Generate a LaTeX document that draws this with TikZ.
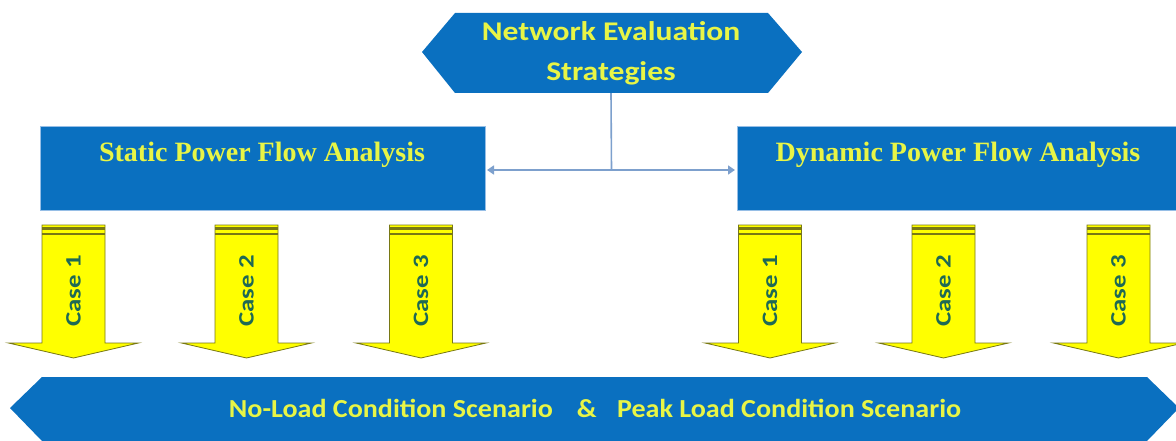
\documentclass[tikz,border=0pt]{standalone}
\usepackage{fontspec}
\setmainfont{Liberation Serif}
\newfontfamily\calib{Carlito}
\usetikzlibrary{arrows.meta}
\definecolor{boxblue}{RGB}{10,112,192}
\definecolor{boxedge}{RGB}{150,190,230}
\definecolor{txtyellow}{RGB}{232,245,70}
\definecolor{arryellow}{RGB}{255,255,0}
\definecolor{arredge}{RGB}{120,120,20}
\definecolor{casetxt}{RGB}{30,105,85}
\definecolor{linkblue}{RGB}{125,160,205}
\tikzset{
  bluebox/.style={fill=boxblue,draw=boxedge,line width=1pt},
  hextext/.style={font=\calib\bfseries\fontsize{27}{40}\selectfont,text=txtyellow,align=center},
  boxtext/.style={font=\bfseries\fontsize{28}{32}\selectfont,text=txtyellow,anchor=base},
  bantext/.style={font=\calib\bfseries\fontsize{26}{30}\selectfont,text=txtyellow,anchor=base},
  casetext/.style={font=\calib\bfseries\fontsize{22}{26}\selectfont,text=casetxt,rotate=90},
  link/.style={draw=linkblue,line width=1.6pt},
  casearrow/.style={fill=arryellow,draw=arredge,line width=0.8pt},
}
\newcommand{\casearrowat}[3]{%
  \path[casearrow] (#1-31.5,225) -- (#1+31.5,225) -- (#1+31.5,343) -- (#1+65,343) -- (#1,358) -- (#1-65,343) -- (#1-31.5,343) -- cycle;
  \draw[arredge,line width=2.5pt] (#1-31.5,228.5) -- (#1+31.5,228.5);
  \draw[arredge,line width=2.5pt] (#1-31.5,234) -- (#1+31.5,234);
  \node[casetext] (#2) at (#1,291) {\scalebox{1.22}[1]{#3}};
}
\begin{document}
\begin{tikzpicture}[x=1pt,y=-1pt]
\useasboundingbox (0,0) rectangle (1176,441);
\fill[white] (0,0) rectangle (1176,441);
% top hexagon
\fill[boxblue] (422,52) -- (455,13) -- (768,13) -- (802,52) -- (768,93) -- (455,93) -- cycle;
\node[hextext,minimum height=80pt,inner sep=0pt] (net) at (611,53) {\scalebox{1.17}[1]{Network Evaluation}\\\scalebox{1.17}[1]{Strategies}};
% boxes
\draw[bluebox] (40,127) rectangle (485,210);
\node[boxtext] (static) at (262,162) {Static Power Flow Analysis};
\draw[bluebox] (737,127) rectangle (1180,210);
\node[boxtext] (dynamic) at (958,162) {Dynamic Power Flow Analysis};
\coordinate (sE) at (487,170);
\coordinate (dW) at (735,170);
\coordinate (j) at (611.5,170);
\draw[link] (net.south) -- (j);
\draw[link,{Triangle[length=7pt,width=9pt]}-{Triangle[length=7pt,width=9pt]}] (sE) -- (dW);
% case arrows
\casearrowat{73.5}{c1}{Case 1}
\casearrowat{246.5}{c2}{Case 2}
\casearrowat{421}{c3}{Case 3}
\casearrowat{770}{c4}{Case 1}
\casearrowat{943.5}{c5}{Case 2}
\casearrowat{1118.5}{c6}{Case 3}
% bottom banner
\fill[boxblue] (10,408) -- (42,377) -- (1147,377) -- (1179,408) -- (1147,441) -- (42,441) -- cycle;
\node[bantext] (scen) at (595,417) {\scalebox{1.08}[1]{No-Load Condition Scenario\hspace{22pt}\&\hspace{19pt}Peak Load Condition Scenario}};
\end{tikzpicture}
\end{document}
